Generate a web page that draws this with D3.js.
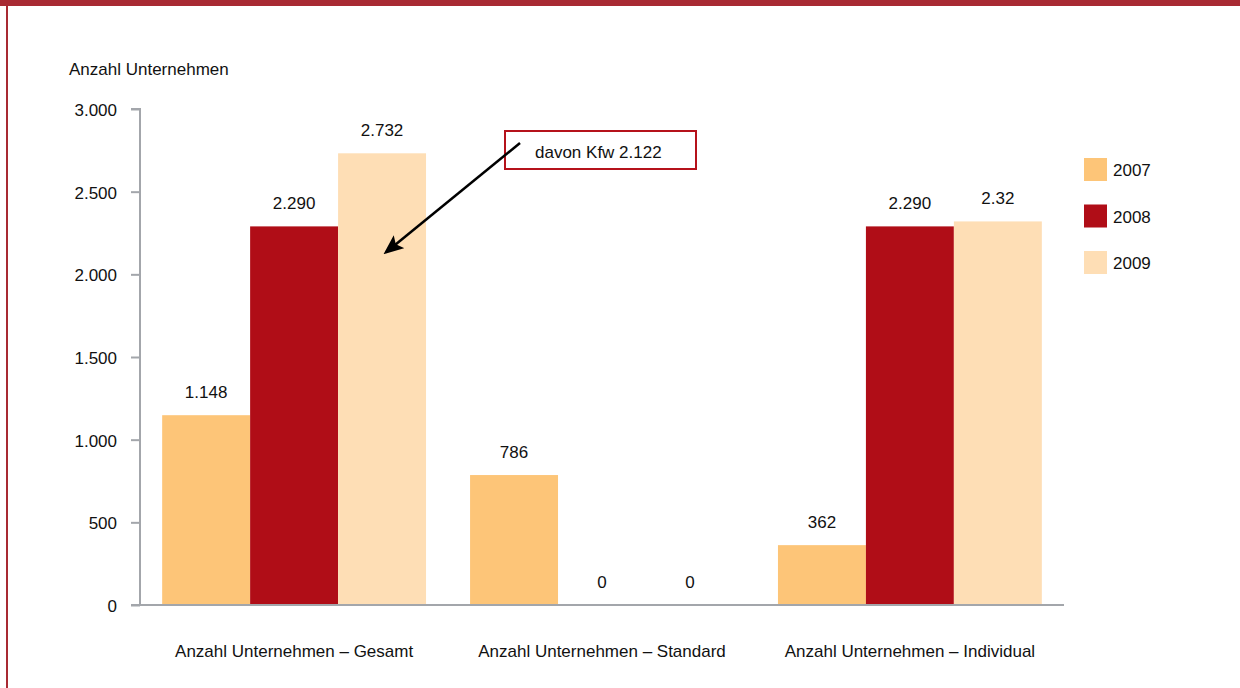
<!DOCTYPE html>
<html>
<head>
<meta charset="utf-8">
<script src="https://cdn.jsdelivr.net/npm/d3@7"></script>
<style>
  html, body { margin: 0; padding: 0; background: #fff; }
  svg { display: block; font-family: "Liberation Sans", Arial, sans-serif; }
</style>
</head>
<body>
<svg id="chart" width="1240" height="688"></svg>
<script>
// Data
const categories = [
  "Anzahl Unternehmen – Gesamt",
  "Anzahl Unternehmen – Standard",
  "Anzahl Unternehmen – Individual"
];
const years = ["2007", "2008", "2009"];
const values2007 = [1148, 786, 362];
const values2008 = [2290, 0, 2290];
const values2009 = [2732, 0, 2320];
const labels2007 = ["1.148", "786", "362"];
const labels2008 = ["2.290", "0", "2.290"];
const labels2009 = ["2.732", "0", "2.32"];
const yTicks = [0, 500, 1000, 1500, 2000, 2500, 3000];
const yTickLabels = ["0", "500", "1.000", "1.500", "2.000", "2.500", "3.000"];
const annotationText = "davon Kfw 2.122";
const annotationTarget = { category: 0, value: 2122 };

const seriesValues = [values2007, values2008, values2009];
const seriesLabels = [labels2007, labels2008, labels2009];
const colors = ["#fdc578", "#b00d17", "#fedeb5"];
const FONT = 17;
const FONT_FAMILY = "Liberation Sans, Arial, sans-serif";

const svg = d3.select("#chart");

// Frame
svg.append("rect").attr("x", 0).attr("y", 0).attr("width", 1240).attr("height", 6).attr("fill", "#a82a33");
svg.append("rect").attr("x", 6).attr("y", 0).attr("width", 2).attr("height", 688).attr("fill", "#a82a33");

const plot = { left: 140, right: 1064, top: 109, bottom: 605 };

const x0 = d3.scaleBand()
  .domain(d3.range(categories.length))
  .range([plot.left, plot.right])
  .paddingInner(0.143)
  .paddingOuter(0.072);

const x1 = d3.scaleBand()
  .domain(d3.range(years.length))
  .range([0, x0.bandwidth()]);

const y = d3.scaleLinear().domain([0, 3000]).range([plot.bottom, plot.top]);

// Axis title
svg.append("text")
  .attr("x", 69).attr("y", 75)
  .attr("font-size", FONT).attr("fill", "#111")
  .text("Anzahl Unternehmen");

// Bars
const groups = svg.append("g").selectAll("g")
  .data(categories)
  .join("g")
  .attr("transform", (d, i) => `translate(${x0(i)},0)`);

const cells = (d, i) => seriesValues.map((s, k) => ({ k, v: s[i], label: seriesLabels[k][i] }));

groups.selectAll("rect")
  .data(cells)
  .join("rect")
  .attr("x", d => x1(d.k))
  .attr("y", d => y(d.v))
  .attr("width", x1.bandwidth())
  .attr("height", d => y(0) - y(d.v))
  .attr("fill", d => colors[d.k]);

groups.selectAll("text.val")
  .data(cells)
  .join("text")
  .attr("class", "val")
  .attr("x", d => x1(d.k) + x1.bandwidth() / 2)
  .attr("y", d => y(d.v) - 17)
  .attr("text-anchor", "middle")
  .attr("font-size", FONT).attr("fill", "#111")
  .text(d => d.label);

// Y axis
const yAxis = d3.axisLeft(y)
  .tickValues(yTicks)
  .tickFormat((d, i) => yTickLabels[i])
  .tickSize(9)
  .tickPadding(14);

const yg = svg.append("g").attr("transform", `translate(${plot.left},0)`).call(yAxis);
yg.select(".domain").attr("stroke", "#a3a6ab").attr("stroke-width", 2)
  .attr("d", `M-9,${plot.top}H0V${plot.bottom}`);
yg.selectAll(".tick line").attr("stroke", "#a3a6ab").attr("stroke-width", 2);
yg.selectAll(".tick text").attr("font-size", FONT).attr("fill", "#111")
  .attr("font-family", FONT_FAMILY).attr("dy", "0.38em");

// X axis
const xAxis = d3.axisBottom(x0).tickSize(0).tickPadding(40).tickFormat(i => categories[i]);
const xg = svg.append("g").attr("transform", `translate(0,${plot.bottom})`).call(xAxis);
xg.select(".domain").attr("stroke", "#a3a6ab").attr("stroke-width", 2)
  .attr("d", `M${plot.left - 9},0H${plot.right}`);
xg.selectAll(".tick text").attr("font-size", FONT).attr("fill", "#111")
  .attr("font-family", FONT_FAMILY);

// Legend
const legend = svg.append("g").selectAll("g")
  .data(years)
  .join("g")
  .attr("transform", (d, i) => `translate(1084,${158 + i * 46.5})`);
legend.append("rect").attr("width", 23).attr("height", 23).attr("fill", (d, i) => colors[i]);
legend.append("text").attr("x", 29).attr("y", 18)
  .attr("font-size", FONT).attr("fill", "#111").text(d => d);

// Annotation box with arrow
const box = { x: 505, y: 131, w: 191, h: 38 };
svg.append("rect")
  .attr("x", box.x).attr("y", box.y).attr("width", box.w).attr("height", box.h)
  .attr("fill", "#fff").attr("stroke", "#b5121b").attr("stroke-width", 2);
svg.append("text")
  .attr("x", box.x + 30).attr("y", box.y + 27)
  .attr("font-size", FONT).attr("fill", "#111")
  .text(annotationText);

svg.append("defs").append("marker")
  .attr("id", "arrowhead")
  .attr("viewBox", "0 0 12 10")
  .attr("refX", 10).attr("refY", 5)
  .attr("markerWidth", 8).attr("markerHeight", 6.7)
  .attr("markerUnits", "strokeWidth")
  .attr("orient", "auto")
  .append("path").attr("d", "M0,0L12,5L0,10L2.5,5Z").attr("fill", "#000");

const tipX = x0(annotationTarget.category) + x1(1) + x1.bandwidth() + 48;
const tipY = y(annotationTarget.value) - 2;
svg.append("line")
  .attr("x1", 520).attr("y1", 143)
  .attr("x2", tipX).attr("y2", tipY)
  .attr("stroke", "#000").attr("stroke-width", 2.5)
  .attr("marker-end", "url(#arrowhead)");
</script>
</body>
</html>
